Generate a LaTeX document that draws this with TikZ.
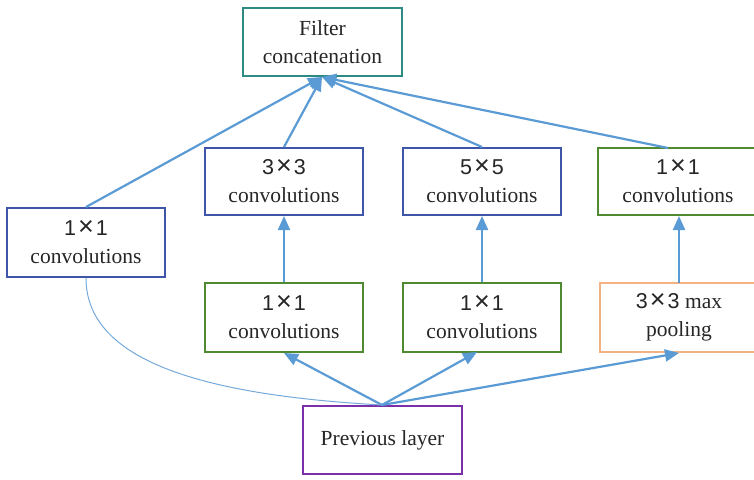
\documentclass[tikz,border=0pt]{standalone}
\usepackage{fontspec}
\setmainfont{Liberation Serif}
\newfontfamily\numfont{Liberation Sans}
\usetikzlibrary{arrows.meta}
\definecolor{teal1}{HTML}{2E8B84}
\definecolor{blue1}{HTML}{3F56A8}
\definecolor{green1}{HTML}{4F8A30}
\definecolor{orange1}{HTML}{F4B183}
\definecolor{purple1}{HTML}{7A30A8}
\definecolor{arrow1}{HTML}{5B9BD5}
\newcommand{\kxk}[2]{{\numfont #1\hspace{2pt}{\fontsize{27}{28}\selectfont ×}\hspace{2pt}#2}}
\begin{document}
\begin{tikzpicture}[x=1pt,y=-1pt,
  box/.style={draw, line width=2pt, fill=white, inner sep=0pt, align=center,
    font=\fontsize{21.5}{28}\selectfont, text=black!85},
  conn/.style={draw=arrow1, line width=2.2pt, -{Triangle[length=14pt,width=12pt]}}]
\useasboundingbox (0,0) rectangle (754,479);
\node[box, draw=teal1, minimum width=159pt, minimum height=68pt] (fc) at (322.5,42) {Filter\\concatenation};
\node[box, draw=blue1, minimum width=158pt, minimum height=69pt] (l1) at (86,242.5) {\kxk{1}{1}\\convolutions};
\node[box, draw=blue1, minimum width=158pt, minimum height=67pt] (c3) at (284,181.5) {\kxk{3}{3}\\convolutions};
\node[box, draw=blue1, minimum width=158pt, minimum height=67pt] (c5) at (482,181.5) {\kxk{5}{5}\\convolutions};
\node[box, draw=green1, minimum width=160pt, minimum height=67pt] (r1) at (678,181.5) {\kxk{1}{1}\\convolutions};
\node[box, draw=green1, minimum width=158pt, minimum height=69pt] (m1) at (284,317.5) {\kxk{1}{1}\\convolutions};
\node[box, draw=green1, minimum width=158pt, minimum height=69pt] (m2) at (482,317.5) {\kxk{1}{1}\\convolutions};
\node[box, draw=orange1, minimum width=158pt, minimum height=69pt] (mp) at (679,317.5) {\kxk{3}{3} max\\pooling};
\node[box, draw=purple1, minimum width=159pt, minimum height=68pt] (pl) at (382.5,440) {Previous layer};
\coordinate (top) at (322,77);
\coordinate (plt) at (382,405);
\coordinate (m2b) at (477,352);
\coordinate (mpt) at (679,283);
\coordinate (r1b) at (679,216);
\coordinate (r1t) at (668,148);
% bottom arrows
\draw[conn] (plt) -- (m1.south);
\draw[conn] (plt) -- (m2b);
\draw[conn] (plt) -- (mp.south);
\draw[draw=arrow1!85, line width=1pt] (plt) .. controls (200,395) and (86,360) .. (l1.south);
% verticals
\draw[conn] (m1.north) -- (c3.south);
\draw[conn] (m2.north) -- (c5.south);
\draw[conn] (mpt) -- (r1b);
% to top
\draw[conn] (l1.north) -- (top);
\draw[conn] (c3.north) -- (top);
\draw[conn] (c5.north) -- (top);
\draw[conn] (r1t) -- (top);
\end{tikzpicture}
\end{document}
